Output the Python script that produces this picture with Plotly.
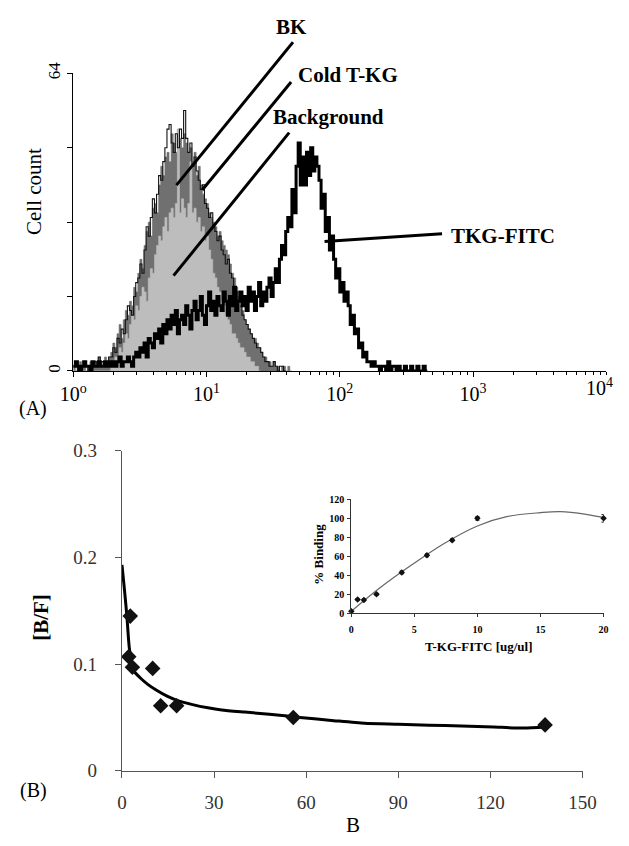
import plotly.graph_objects as go

W, H = 629, 846
SERIF = "Liberation Serif"


def fx(p):
    return p / W


def fy(p):
    return 1 - p / H


# ---------------- Panel A : flow cytometry histograms (64 channels / decade) ----
CH_PER_DECADE = 64

cold_tkg = [1, 0, 1, 2, 1, 1, 0, 1, 2, 2, 1, 2, 3, 2, 1, 3, 2, 3,
            4, 6, 5, 8, 10, 7, 11,
            13, 12, 15, 14, 18, 17, 21,
            24, 22, 27, 30, 32, 29, 35,
            36, 34, 40, 44, 42, 46, 47,
            45, 51, 49, 47, 52, 50, 48,
            51, 49, 47, 48, 45, 47, 42,
            44, 40, 38, 37, 36, 34, 33,
            32, 31, 29, 30, 28, 27, 26,
            25, 23, 21, 20, 18, 16, 14,
            13, 11, 10, 9, 8, 7, 7,
            6, 5, 4, 3, 3, 2, 2,
            1, 2, 1, 1, 0, 1, 1, 0, 1, 0]

background = [0, 0, 0, 0, 0, 0, 0, 0, 0, 0, 0, 0, 0, 0, 0, 0, 0, 0,
              1, 2, 3, 2, 5,
              4, 6, 8, 7, 10, 12, 11,
              14, 13, 16, 18, 17, 15,
              20, 22, 21, 25, 27, 29,
              28, 31, 33, 30, 34, 35,
              33, 36, 52, 34, 37, 35,
              33, 36, 45, 34, 35, 32,
              33, 30, 31, 28, 29, 26,
              24, 21, 20, 18, 17, 15,
              14, 12, 11, 10, 8, 8,
              7, 6, 5, 5, 4, 3,
              3, 2, 2, 1, 1, 0]

bk = [1, 2, 0, 1, 1, 2, 1, 0, 1, 1, 2, 1, 3, 2, 2, 1, 2, 3,
      3, 5, 4, 7, 6, 9, 8,
      11, 14, 13, 12, 16, 19, 20,
      23, 21, 26, 31, 29, 33, 37,
      34, 38, 42, 41, 45, 48, 52,
      53, 49, 47, 51, 48, 52, 50,
      56, 50, 47, 49, 44, 46, 43,
      41, 39, 40, 36, 35, 33, 34,
      31, 30, 28, 29, 26, 25, 23,
      24, 21, 20, 18, 17, 15, 16,
      12, 11, 10, 9, 8, 7, 6,
      5, 5, 4, 3, 2, 2, 1,
      1, 2, 1, 0, 1, 1, 0]

tkg_fitc = [1, 2, 1, 0, 1, 2, 1, 1, 0, 2, 1, 1, 2, 1, 1, 2, 1, 2,
            1, 2, 1, 2, 3, 1, 2, 2, 3, 2, 1, 3, 4, 3,
            5, 4, 6, 3, 7, 6, 5, 8, 7, 9, 6, 10, 8,
            11, 9, 12, 10, 13, 8, 11, 12, 10, 14, 12, 9, 13,
            15, 11, 13, 16, 12, 10, 14, 17, 13, 15, 12, 16, 14,
            13, 17, 15, 12, 16, 14, 18, 13, 15, 17, 14, 16, 13,
            18, 15, 17, 13, 16, 19, 14, 17, 15, 18, 20, 16, 19,
            22, 19, 24, 27, 25, 30, 33,
            31, 39, 34, 44, 49, 40, 46,
            40, 47, 42, 48, 43, 46, 44,
            41, 35, 38, 30, 33, 26, 29,
            24, 20, 22, 17, 19, 15, 17,
            14, 10, 12, 8, 9, 5, 6,
            3, 4, 2, 2, 1, 2, 1,
            1, 0, 1, 1, 0, 2, 0, 1, 1, 0, 1, 0, 0, 1, 0,
            0, 1, 0, 0, 1, 0, 0, 1, 0]

decade_vals = [1, 10, 100, 1000]
decade_text = ["10<sup>o</sup>", "10<sup>1</sup>", "10<sup>2</sup>", "10<sup>3</sup>"]
last_decade_text = "10<sup>4</sup>"
count_labels = [0, 64]
count_minor = [16, 32, 48]

# ---------------- Panel B : Scatchard plot ----------------
b_points = [2.2, 2.7, 3.4, 10.0, 12.6, 17.8, 55.8, 137.8]
bf_points = [0.107, 0.145, 0.097, 0.096, 0.061, 0.061, 0.050, 0.043]

b_fit = [0, 0.8, 1.6, 2.4, 3.75, 6, 8.4, 11, 14.7, 18, 23, 28, 32.5, 40, 48,
         58, 69, 79, 90, 100, 110.6, 121, 131, 138]
bf_fit = [0.193, 0.17, 0.145, 0.115, 0.094, 0.087, 0.081, 0.076, 0.070, 0.066,
          0.062, 0.059, 0.057, 0.055, 0.053, 0.050, 0.047, 0.0445, 0.0436,
          0.0427, 0.042, 0.041, 0.040, 0.041]

# ---------------- Inset : % binding ----------------
conc_points = [0, 0.5, 1, 2, 4, 6, 8, 10, 20]
binding_points = [2, 14.5, 14, 20, 43, 61, 77, 100, 100]
binding_err = [1, 1, 1, 1, 1.5, 1.5, 1.5, 2, 4]

conc_fit = [0, 2.3, 4.8, 7.3, 10, 12.4, 15, 16.6, 18.7, 20]
binding_fit = [2, 27, 51, 73, 92, 102, 106, 107, 104, 101]


def step_xy(counts):
    xs = [10 ** (i / CH_PER_DECADE) for i in range(len(counts) + 1)]
    ys = list(counts) + [counts[-1]]
    return xs, ys


fig = go.Figure()

for counts, fill, lcol, lw, name in [
    (cold_tkg, "#707070", "#707070", 0.6, "Cold T-KG"),
    (background, "#bdbdbd", "#bdbdbd", 0.6, "Background"),
    (bk, None, "#111111", 1.1, "BK"),
    (tkg_fitc, None, "#000000", 3.0, "TKG-FITC"),
]:
    xs, ys = step_xy(counts)
    fig.add_trace(go.Scatter(
        x=xs, y=ys, mode="lines", line=dict(shape="hv", color=lcol, width=lw),
        fill="tozeroy" if fill else None, fillcolor=fill, name=name,
        xaxis="x", yaxis="y", showlegend=False, hoverinfo="skip"))

# Panel B traces
fig.add_trace(go.Scatter(
    x=b_fit, y=bf_fit, mode="lines",
    line=dict(color="black", width=3, shape="spline", smoothing=0.6),
    xaxis="x2", yaxis="y2", showlegend=False, cliponaxis=False))
fig.add_trace(go.Scatter(
    x=b_points, y=bf_points, mode="markers",
    marker=dict(symbol="diamond", size=12, color="#111111"),
    xaxis="x2", yaxis="y2", showlegend=False, cliponaxis=False))

# Inset traces
fig.add_trace(go.Scatter(
    x=conc_fit, y=binding_fit, mode="lines",
    line=dict(color="#666666", width=1.2, shape="spline"),
    xaxis="x3", yaxis="y3", showlegend=False, cliponaxis=False))
fig.add_trace(go.Scatter(
    x=conc_points, y=binding_points, mode="markers",
    marker=dict(symbol="diamond", size=5, color="#111111"),
    error_y=dict(type="data", array=binding_err, color="#222222", thickness=1, width=2),
    xaxis="x3", yaxis="y3", showlegend=False, cliponaxis=False))

minor_vals = [m * 10 ** k for k in range(4) for m in range(2, 10)] + [10000]

fig.update_layout(
    width=W, height=H,
    margin=dict(l=0, r=0, t=0, b=0),
    paper_bgcolor="white", plot_bgcolor="rgba(0,0,0,0)",
    font=dict(family=SERIF, color="black"),
    showlegend=False,
    xaxis=dict(domain=[fx(62), fx(620)], anchor="y", type="log", range=[0, 4],
               tickmode="array", tickvals=decade_vals, ticktext=decade_text,
               ticks="outside", ticklen=5, tickcolor="black", showline=True,
               linecolor="black", linewidth=1, showgrid=False, zeroline=False,
               tickfont=dict(size=20, family=SERIF),
               minor=dict(tickmode="array", tickvals=minor_vals, ticks="outside",
                          ticklen=3, tickcolor="black", showgrid=False)),
    yaxis=dict(domain=[fy(369), fy(63)], anchor="x", range=[0, 64],
               tickmode="array", tickvals=count_labels,
               ticktext=[str(v) for v in count_labels],
               tickangle=-90, ticks="outside", ticklen=5, tickcolor="black",
               showline=True, linecolor="black", linewidth=1, showgrid=False,
               zeroline=False, tickfont=dict(size=17, family=SERIF),
               minor=dict(tickmode="array", tickvals=count_minor, ticks="outside",
                          ticklen=5, tickcolor="black", showgrid=False)),
    xaxis2=dict(domain=[fx(113), fx(595)], anchor="y2", range=[0, 150],
                tickmode="linear", tick0=0, dtick=30, ticks="outside", ticklen=6,
                tickcolor="#555", showline=True, linecolor="#555", linewidth=1.2,
                showgrid=False, zeroline=False, ticklabelstandoff=8,
                tickfont=dict(size=19, family=SERIF, color="#333")),
    yaxis2=dict(domain=[fy(780), fy(451)], anchor="x2", range=[0, 0.3],
                tickmode="array", tickvals=[0, 0.1, 0.2, 0.3],
                ticktext=["0", "0.1", "0.2", "0.3"], ticks="outside", ticklen=6,
                tickcolor="#555", showline=True, linecolor="#555", linewidth=1.2,
                showgrid=False, zeroline=False, ticklabelstandoff=14,
                tickfont=dict(size=19, family=SERIF, color="#333")),
    xaxis3=dict(domain=[fx(353), fx(617)], anchor="y3", range=[0, 20],
                tickmode="linear", tick0=0, dtick=5, ticks="outside", ticklen=3,
                tickcolor="#333", showline=True, linecolor="#333", linewidth=1,
                showgrid=False, zeroline=False, ticklabelstandoff=4,
                tickfont=dict(size=10, family=SERIF, weight="bold")),
    yaxis3=dict(domain=[fy(618), fy(501)], anchor="x3", range=[0, 120],
                tickmode="linear", tick0=0, dtick=20, ticks="outside", ticklen=3,
                tickcolor="#333", showline=True, linecolor="#333", linewidth=1,
                showgrid=False, zeroline=False, ticklabelstandoff=1,
                tickfont=dict(size=10, family=SERIF, weight="bold")),
)

ann = []


def text(x, y, s, size, bold=False, angle=0, xanchor="center"):
    ann.append(dict(x=fx(x), y=fy(y), xref="paper", yref="paper", text=s,
                    showarrow=False, textangle=angle, xanchor=xanchor,
                    yanchor="middle",
                    font=dict(family=SERIF, size=size, color="black",
                              weight="bold" if bold else "normal")))


text(21, 185, "Cell count", 21, angle=-90)
text(272, 15, "BK", 21, bold=True, xanchor="left")
text(295, 65, "Cold T-KG", 21, bold=True, xanchor="left")
text(269, 108, "Background", 21, bold=True, xanchor="left")
text(455, 230, "TKG-FITC", 21, bold=True, xanchor="left")
text(629, 385, last_decade_text, 20, xanchor="right")
text(20, 408, "(A)", 20)
text(20, 800, "(B)", 20)
text(28, 622, "[B/F]", 21, bold=True, angle=-90)
text(355, 836, "B", 21)
text(319, 557, "% Binding", 13, bold=True, angle=-90)
text(487, 652, "T-KG-FITC [ug/ul]", 13, bold=True)

fig.update_layout(annotations=ann)

leaders = [((292, 31), (170, 178)),
           ((290, 72), (197, 183)),
           ((288, 124), (167, 271)),
           ((448, 228), (325, 236))]
for (x0, y0), (x1, y1) in leaders:
    fig.add_shape(type="line", xref="paper", yref="paper",
                  x0=fx(x0), y0=fy(y0), x1=fx(x1), y1=fy(y1),
                  line=dict(color="black", width=3))

fig.write_html("out.html", config={"displayModeBar": False},
               post_script="document.body.style.margin='0px';")
